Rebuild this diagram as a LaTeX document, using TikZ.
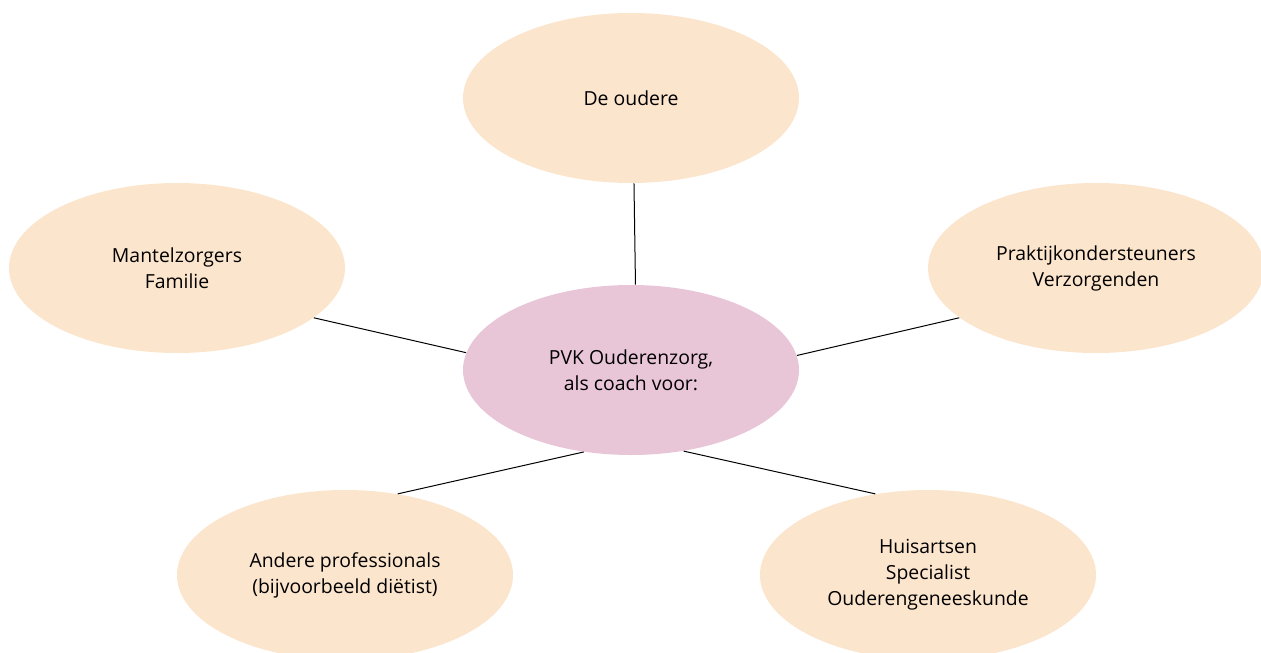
\documentclass[tikz,border=0pt]{standalone}
\usepackage{fontspec}
\setmainfont{Open Sans}
\usetikzlibrary{shapes.geometric}

\definecolor{peach}{HTML}{FCE5CD}
\definecolor{rosy}{HTML}{E9C6D7}

\tikzset{
  blob/.style={ellipse, fill=peach, minimum width=168pt, minimum height=85pt,
    inner sep=0pt, align=center, font=\fontsize{9.7}{13}\selectfont},
  hub/.style={blob, fill=rosy},
  link/.style={line width=0.5pt}
}

\begin{document}
\begin{tikzpicture}[x=0.5pt, y=-0.5pt]
      \useasboundingbox (0,0) rectangle (1261,652);

      % 'centre'
      \node[hub] at (631,370) (pvk) {PVK Ouderenzorg,\\als coach voor:};

      % 'top'
      \node[blob] at (631,98) (oudere) {De oudere};
      \draw[link] (oudere.272.5) -- (pvk.87);

      % 'left'
      \node[blob] at (177,268) (mantel) {Mantelzorgers\\Familie};
      \draw[link] (mantel.-20.6) -- (pvk.174);

      % 'right'
      \node[blob] at (1096,268) (praktijk) {Praktijkondersteuners\\Verzorgenden};
      \draw[link] (praktijk.200) -- (pvk.5.5);

      % 'bottom left'
      \node[blob] at (345,575) (andere) {Andere professionals\\(bijvoorbeeld diëtist)};
      \draw[link] (andere.57) -- (pvk.240.7);

      % 'bottom right'
      \node[blob] at (928,575) (huisarts) {Huisartsen\\Specialist\\Ouderengeneeskunde};
      \draw[link] (huisarts.123) -- (pvk.303.4);
    \end{tikzpicture}
\end{document}
